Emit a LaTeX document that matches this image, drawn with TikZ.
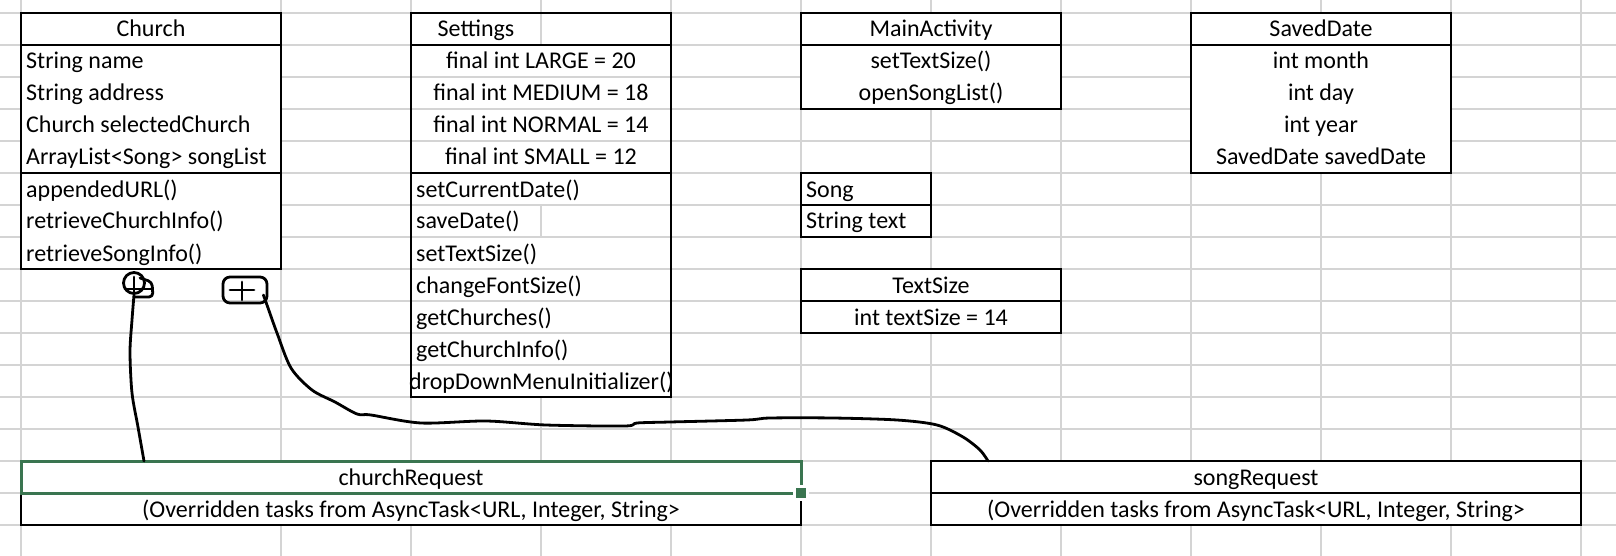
\documentclass[tikz,border=0pt]{standalone}
\usepackage{fontspec}
\setmainfont{Carlito}
\usepackage{tikz}
\usetikzlibrary{positioning,calc}
\definecolor{ink}     {HTML}{000000}
\definecolor{sheet}   {HTML}{D4D4D4}
\definecolor{xlgreen} {HTML}{3A7550}
\tikzset{
  every node/.style={font=\fontsize{24}{28}\selectfont},
  % --- boxes and cells
  cls/.style   = {draw=ink, line width=1.5pt, fill=white, inner sep=0pt,
                  outer sep=0pt, anchor=north west},
  ctr/.style   = {anchor=base, inner sep=0pt},
  lft/.style   = {anchor=base west, inner sep=0pt},
  rule/.style  = {draw=ink, line width=1.5pt},
  xlgrid/.style= {draw=sheet, line width=1.3pt},
  sel/.style   = {draw=xlgreen, line width=3pt},
  handle/.style= {fill=xlgreen, draw=white, line width=3pt, minimum size=13pt,
                  inner sep=0pt},
  % --- pen strokes
  pen/.style   = {draw=ink, line width=2.8pt, line cap=round, line join=round},
  sym/.style   = {pen, inner sep=0pt},
}
\begin{document}
\begin{tikzpicture}[x=1pt,y=-1pt]
  \useasboundingbox (0,0) rectangle (1616,556);
  % sheet grid
  \foreach \gx in {21,281,411,541,...,1581}
    \draw[xlgrid] (\gx,0) -- (\gx,556);
  \foreach \gy in {13,45,...,525}
    \draw[xlgrid] (0,\gy) -- (1616,\gy);

  % Church
  \node[cls, minimum width=260pt, minimum height=256pt] (church) at (21,13) {};
  \draw[rule] (21,45) -- (281,45) (21,173) -- (281,173);
  \node[ctr] (church-h) at (151,37) {Church};
  \foreach \t [count=\i] in {String name,String address,Church selectedChurch,
      ArrayList<Song> songList,appendedURL(),retrieveChurchInfo(),retrieveSongInfo()}
    \node[lft] (church-\i) at (26,37+32*\i) {\t};

  % Settings
  \node[cls, minimum width=260pt, minimum height=384pt] (settings) at (411,13) {};
  \foreach \gy in {77,109,141,205,237,269,301,333,365}
    \draw[xlgrid] (412,\gy) -- (670,\gy);
  \draw[xlgrid] (541,14) -- (541,44) (541,206) -- (541,236);
  \draw[rule] (411,45) -- (671,45) (411,173) -- (671,173);
  \node[ctr] (settings-h) at (476,37) {Settings};
  \foreach \t [count=\i] in {final int LARGE = 20,final int MEDIUM = 18,
      final int NORMAL = 14,final int SMALL = 12}
    \node[ctr] (settings-a\i) at (541,37+32*\i) {\t};
  \foreach \t [count=\i] in {setCurrentDate(),saveDate(),setTextSize(),
      changeFontSize(),getChurches(),getChurchInfo()}
    \node[lft] (settings-m\i) at (416,165+32*\i) {\t};
  \node[lft] (settings-m7) at (409,389) {dropDownMenuInitializer()};

  % MainActivity
  \node[cls, minimum width=260pt, minimum height=96pt] (main) at (801,13) {};
  \draw[rule] (801,45) -- (1061,45);
  \node[ctr] (main-h) at (931,37) {MainActivity};
  \node[ctr] (main-1) at (931,69) {setTextSize()};
  \node[ctr] (main-2) at (931,101) {openSongList()};

  % Song
  \node[cls, minimum width=130pt, minimum height=64pt] (song) at (801,173) {};
  \draw[rule] (801,205) -- (931,205);
  \node[lft] (song-h) at (806,197) {Song};
  \node[lft] (song-1) at (806,229) {String text};

  % TextSize
  \node[cls, minimum width=260pt, minimum height=64pt] (tsize) at (801,269) {};
  \draw[rule] (801,301) -- (1061,301);
  \node[ctr] (tsize-h) at (931,293) {TextSize};
  \node[ctr] (tsize-1) at (931,325) {int textSize = 14};

  % SavedDate
  \node[cls, minimum width=260pt, minimum height=160pt] (saved) at (1191,13) {};
  \draw[rule] (1191,45) -- (1451,45);
  \node[ctr] (saved-h) at (1321,37) {SavedDate};
  \foreach \t [count=\i] in {int month,int day,int year,SavedDate savedDate}
    \node[ctr] (saved-\i) at (1321,37+32*\i) {\t};

  % request tasks
  \node[cls, minimum width=780pt, minimum height=64pt] (creq) at (21,461) {};
  \draw[rule] (21,493) -- (801,493);
  \node[ctr] (creq-h) at (411,485) {churchRequest};
  \node[ctr] (creq-1) at (411,517) {(Overridden tasks from AsyncTask<URL, Integer, String>};
  \node[cls, minimum width=650pt, minimum height=64pt] (sreq) at (931,461) {};
  \draw[rule] (931,493) -- (1581,493);
  \node[ctr] (sreq-h) at (1256,485) {songRequest};
  \node[ctr] (sreq-1) at (1256,517) {(Overridden tasks from AsyncTask<URL, Integer, String>};

  % selected cell
  \draw[sel] (creq.north west) rectangle (creq.east);
  \node[handle] (creq-handle) at (creq.east) {};

  % hand drawn links
  \node[sym, circle, minimum size=21pt] (aggA) at (134,283) {};
  \draw[pen, rounded corners=4pt] (140,278) -- (152,282) -- (153,297) -- (134,297);
  \draw[pen] (125,289) -- (152,289) (134,277) -- (134,298);
  \node[sym, rounded corners=7pt, minimum width=44pt, minimum height=26pt] (aggB) at (245,290) {};
  \draw[pen] (230,290) -- (254,290) (242,282) -- (242,300);
  \coordinate (creqtop) at ($(creq.north west)+(123,0)$);
  \coordinate (sreqtop) at ($(sreq.north west)+(57,0)$);
  \draw[pen] plot[smooth, tension=0.5] coordinates {(aggA.south) (132,320) (130,352)
    (132,393) (138,427) (creqtop)};
  \draw[pen] plot[smooth, tension=0.5] coordinates {($(aggB.east)+(-5,5)$) (267,305)
    (277,333) (291,368) (312,390) (335,402) (357,414) (371,415) (421,423) (486,421)
    (546,425) (625,426) (637,423) (670,422) (747,420) (770,418) (833,418) (897,420)
    (937,425) (963,437) (980,450) (sreqtop)};
\end{tikzpicture}
\end{document}
